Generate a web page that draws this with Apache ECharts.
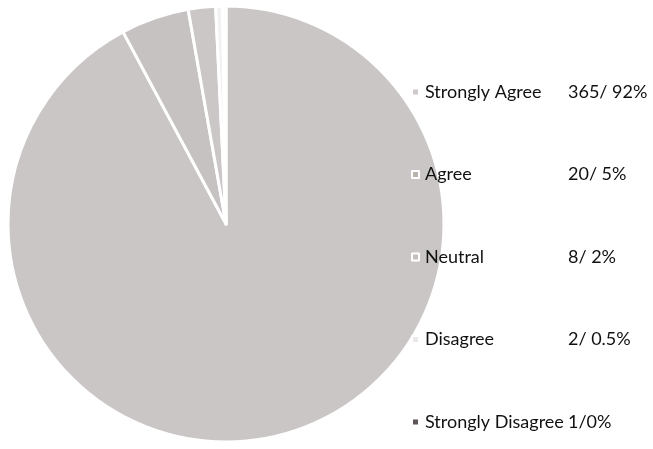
<!DOCTYPE html>
<html>
<head>
<meta charset="utf-8">
<script src="https://cdn.jsdelivr.net/npm/echarts@6/dist/echarts.min.js"></script>
<style>html,body{margin:0;padding:0;background:#fff;}#c{width:653px;height:449px;}</style>
</head>
<body>
<div id="c"></div>
<script>
const categories = ['Strongly Agree', 'Agree', 'Neutral', 'Disagree', 'Strongly Disagree'];
const counts = [365, 20, 8, 2, 1];
const valueLabels = ['365/ 92%', '20/ 5%', '8/ 2%', '2/ 0.5%', '1/0%'];
const sliceColors = ['#cbc6c6', '#c6c2c1', '#cbc7c7', '#f3f1f1', '#f6f4f4'];
const markerColors = ['#cfc9ca', '#b9b3ac', '#c4bebe', '#ece8e8', '#5e5555'];

const chart = echarts.init(document.getElementById('c'), null, {renderer: 'canvas'});
chart.setOption({
  backgroundColor: '#ffffff',
  animation: false,
  legend: {
    orient: 'vertical',
    left: 406,
    top: 78,
    itemWidth: 7,
    itemHeight: 7,
    itemGap: 64.5,
    icon: 'rect',
    data: categories.map((c, i) => ({name: c, itemStyle: {color: markerColors[i]}})),
    formatter: function (name) {
      const i = categories.indexOf(name);
      return '{n|' + name + '}{v|' + valueLabels[i] + '}';
    },
    textStyle: {
      fontFamily: 'Lato',
      fontSize: 18,
      color: '#111111',
      rich: {
        n: {fontFamily: 'Lato', fontSize: 18, color: '#111111', width: 143, padding: [0, 0, 0, 1], lineHeight: 22},
        v: {fontFamily: 'Lato', fontSize: 18, color: '#111111', lineHeight: 22}
      }
    }
  },
  series: [{
    type: 'pie',
    center: [226, 224],
    radius: 218,
    startAngle: 90,
    clockwise: true,
    label: {show: false},
    labelLine: {show: false},
    itemStyle: {borderColor: '#ffffff', borderWidth: 3},
    data: categories.map((c, i) => ({name: c, value: counts[i], itemStyle: {color: sliceColors[i]}}))
  }]
});
</script>
</body>
</html>
